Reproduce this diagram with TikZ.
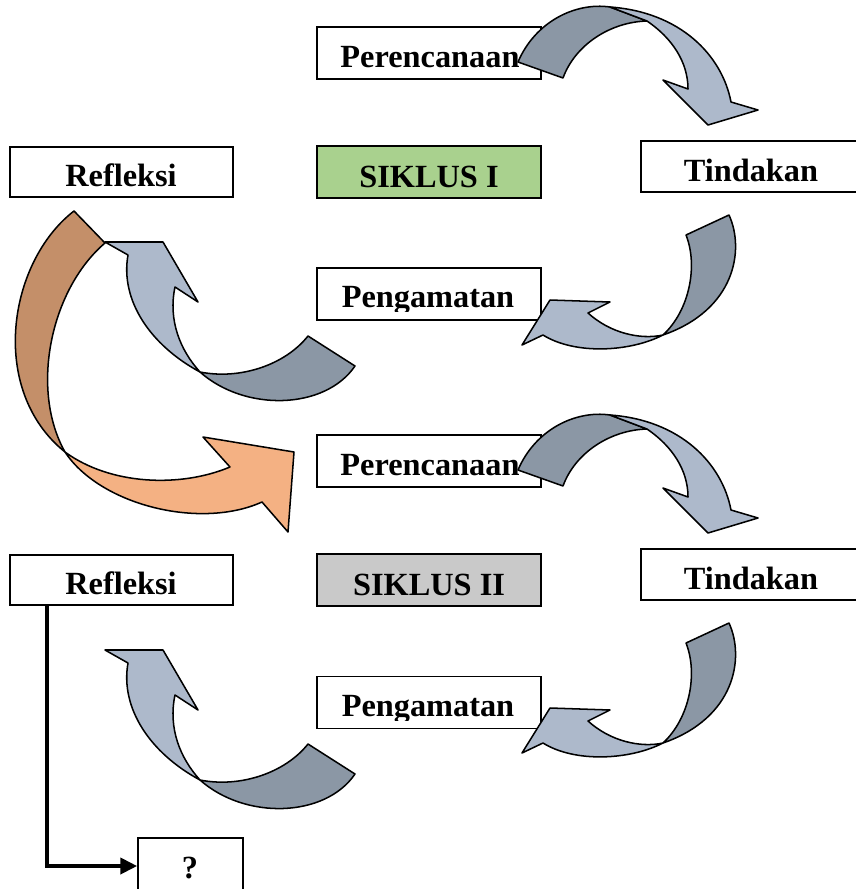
\documentclass[tikz,border=0pt]{standalone}
\usepackage{fontspec}
\setmainfont{Liberation Serif}
\usetikzlibrary{arrows.meta}
\definecolor{slatedark}{HTML}{8B97A5}
\definecolor{slatelight}{HTML}{ADB9CB}
\definecolor{browndark}{HTML}{C48F69}
\definecolor{orangelight}{HTML}{F4B183}
\definecolor{siklusgreen}{HTML}{A9D18E}
\definecolor{siklusgray}{HTML}{C9C9C9}
\newcommand\cyclearrows{%
  % top arrow: Perencanaan -> Tindakan
  \filldraw[arrowline, fill=slatedark] (518,62) -- (563,78) .. controls (575,45) and (610,22) .. (647,21) -- (610,7) .. controls (575,2) and (535,22) .. (518,62) -- cycle;
  \filldraw[arrowline, fill=slatelight] (610,7) .. controls (680,12) and (722,55) .. (731,102) -- (758,110) -- (708,125) -- (663,80) -- (688,89) .. controls (688,62) and (672,38) .. (647,21) -- cycle;
  % right arrow: Tindakan -> Pengamatan
  \filldraw[arrowline, fill=slatedark] (686,235) -- (729,215) .. controls (745,250) and (735,310) .. (663,335) .. controls (690,310) and (698,265) .. (686,235) -- cycle;
  \filldraw[arrowline, fill=slatelight] (663,335) .. controls (630,352) and (575,355) .. (543,335) -- (522,345) -- (550,300) -- (610,302) -- (588,313) .. controls (610,333) and (640,340) .. (663,335) -- cycle;
  % left arrow: Pengamatan -> Refleksi
  \filldraw[arrowline, fill=slatedark] (308,336) -- (355,366) .. controls (325,410) and (245,412) .. (200,372) .. controls (240,380) and (285,365) .. (308,336) -- cycle;
  \filldraw[arrowline, fill=slatelight] (200,372) .. controls (150,345) and (120,300) .. (128,255) -- (105,242) -- (163,242) -- (198,302) -- (175,287) .. controls (168,320) and (180,350) .. (200,372) -- cycle;
}
\begin{document}
\begin{tikzpicture}[x=0.03cm, y=-0.03cm,
  box/.style={draw, line width=1.5pt, minimum width=6.72cm, minimum height=1.56cm, inner sep=0pt},
  lbl/.style={anchor=base, inner sep=0pt, font=\bfseries\fontsize{27.6}{30}\selectfont},
  arrowline/.style={draw=black, line width=1.3pt, line join=round},
  conn/.style={line width=3pt, -{Triangle[length=0.5cm, width=0.48cm]}}]
\useasboundingbox (0,0) rectangle (855,889);

% boxes cycle I
\node[box] (per1) at (429,53) {};
\node[box, fill=siklusgreen] (sik1) at (429,172) {};
\node[box, minimum width=6.69cm, minimum height=1.5cm] (ref1) at (121.5,172) {};
\node[box, minimum width=6.69cm, minimum height=1.53cm] (tin1) at (752.5,166.5) {};
\node[box] (pen1) at (429,294) {};
% boxes cycle II
\node[box] (per2) at (429,461) {};
\node[box, fill=siklusgray] (sik2) at (429,580) {};
\node[box, minimum width=6.69cm, minimum height=1.5cm] (ref2) at (121.5,580) {};
\node[box, minimum width=6.69cm, minimum height=1.53cm] (tin2) at (752.5,574.5) {};
\node[box] (pen2) at (429,702.5) {};
\node[box, minimum width=3.15cm, minimum height=1.68cm] (q) at (190.5,866) {};

% labels
\node[lbl] (tper1) at (430,67) {Perencanaan};
\node[lbl] (tsik1) at (429,187) {SIKLUS I};
\node[lbl] (tref1) at (121,186) {Refleksi};
\node[lbl] (ttin1) at (751,181) {Tindakan};
\begin{scope}
  \clip (318,268) rectangle (540,311);
  \node[lbl] (tpen1) at (428,307) {Pengamatan};
\end{scope}
\node[lbl] (tper2) at (430,475) {Perencanaan};
\node[lbl] (tsik2) at (429,595) {SIKLUS II};
\node[lbl] (tref2) at (121,594) {Refleksi};
\node[lbl] (ttin2) at (751,589) {Tindakan};
\begin{scope}
  \clip (318,677) rectangle (540,720);
  \node[lbl] (tpen2) at (428,716) {Pengamatan};
\end{scope}
\node[lbl] (tq) at (190,878) {?};

% cycle arrows
\cyclearrows
\begin{scope}[shift={(0,408)}]
\cyclearrows
\end{scope}

% big orange arrow: Refleksi I -> Perencanaan II
\filldraw[arrowline, fill=browndark] (74,211) -- (105,243) .. controls (50,290) and (30,390) .. (65,452) .. controls (-12,390) and (8,262) .. (74,211) -- cycle;
\filldraw[arrowline, fill=orangelight] (65,452) .. controls (100,505) and (200,530) .. (262,502) -- (288,532) -- (294,452) -- (203,437) -- (230,467) .. controls (180,488) and (110,485) .. (65,452) -- cycle;

% connector Refleksi II -> ?
\coordinate (c1) at (47,605);
\draw[conn] (c1) |- (q.west);
\end{tikzpicture}
\end{document}
